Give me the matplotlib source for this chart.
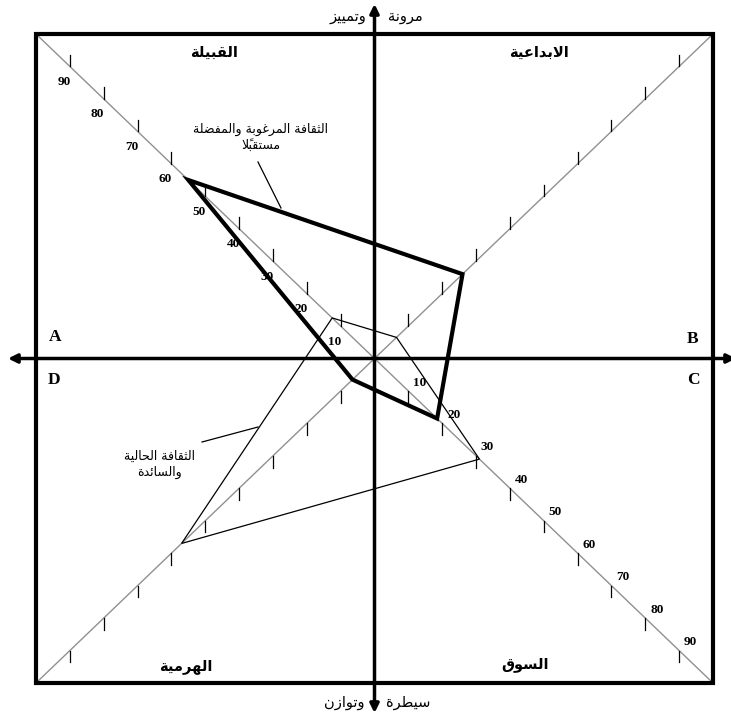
import matplotlib
matplotlib.use('Agg')
import matplotlib.pyplot as plt
from matplotlib.patches import Rectangle, Polygon

# values read along the four diagonals (0 at centre, 100 at the box corner)
directions = ['NW', 'NE', 'SE', 'SW']
desired = [55, 26, 18.5, 6.5]
current = [12.5, 6.5, 31, 57]
tick_values = [10, 20, 30, 40, 50, 60, 70, 80, 90]
labelled = ['NW', 'SE']

quadrant_names = ['القبيلة', 'الابداعية', 'السوق', 'الهرمية']
corner_letters = ['A', 'B', 'C', 'D']
top_words = ['مرونة', 'وتمييز']
bottom_words = ['سيطرة', 'وتوازن']
desired_label = ['الثقافة المرغوبة والمفضلة', 'مستقبلاً']
current_label = ['الثقافة الحالية', 'والسائدة']

dir_vec = {'NW': (-1, 1), 'NE': (1, 1), 'SE': (1, -1), 'SW': (-1, -1)}

# simple arabic shaping (matplotlib does no shaping / bidi)
FORMS = {
    'ا': (0xFE8D, 0xFE8E), 'ب': (0xFE8F, 0xFE90, 0xFE91, 0xFE92),
    'ة': (0xFE93, 0xFE94), 'ت': (0xFE95, 0xFE96, 0xFE97, 0xFE98),
    'ث': (0xFE99, 0xFE9A, 0xFE9B, 0xFE9C), 'ح': (0xFEA1, 0xFEA2, 0xFEA3, 0xFEA4),
    'د': (0xFEA9, 0xFEAA), 'ر': (0xFEAD, 0xFEAE), 'ز': (0xFEAF, 0xFEB0),
    'س': (0xFEB1, 0xFEB2, 0xFEB3, 0xFEB4), 'ض': (0xFEBD, 0xFEBE, 0xFEBF, 0xFEC0),
    'ط': (0xFEC1, 0xFEC2, 0xFEC3, 0xFEC4), 'ع': (0xFEC9, 0xFECA, 0xFECB, 0xFECC),
    'غ': (0xFECD, 0xFECE, 0xFECF, 0xFED0), 'ف': (0xFED1, 0xFED2, 0xFED3, 0xFED4),
    'ق': (0xFED5, 0xFED6, 0xFED7, 0xFED8), 'ل': (0xFEDD, 0xFEDE, 0xFEDF, 0xFEE0),
    'م': (0xFEE1, 0xFEE2, 0xFEE3, 0xFEE4), 'ن': (0xFEE5, 0xFEE6, 0xFEE7, 0xFEE8),
    'ه': (0xFEE9, 0xFEEA, 0xFEEB, 0xFEEC), 'و': (0xFEED, 0xFEEE),
    'ي': (0xFEF1, 0xFEF2, 0xFEF3, 0xFEF4), 'ئ': (0xFE89, 0xFE8A, 0xFE8B, 0xFE8C),
    'لا': (0xFEFB, 0xFEFC),
}


def shape(line):
    units = []
    i = 0
    while i < len(line):
        c = line[i]
        if c == 'ل' and line[i + 1:i + 2] == 'ا':
            units.append(['لا', ''])
            i += 2
            continue
        if '\u064b' <= c <= '\u0652' and units:
            units[-1][1] += c
        else:
            units.append([c, ''])
        i += 1
    glyphs = []
    for k, (c, marks) in enumerate(units):
        f = FORMS.get(c)
        if f is None:
            glyphs.append(c + marks)
            continue
        prev = FORMS.get(units[k - 1][0]) if k > 0 else None
        nxt = FORMS.get(units[k + 1][0]) if k + 1 < len(units) else None
        jp = prev is not None and len(prev) == 4
        jn = nxt is not None and len(f) == 4
        if jp and jn:
            g = f[3]
        elif jp:
            g = f[1]
        elif jn:
            g = f[2]
        else:
            g = f[0]
        glyphs.append(chr(g) + marks)
    return ''.join(reversed(glyphs))


W, H = 731, 718
fig = plt.figure(figsize=(W / 100, H / 100), dpi=100)
ax = fig.add_axes([0, 0, 1, 1])

# pixel -> data helpers (box 36..713 x 34..683 maps to -100..100)
sx = 200 / 677
sy = 200 / 649
x0 = -100 - 36 * sx
y0 = 100 + 34 * sy
ax.set_xlim(x0, x0 + W * sx)
ax.set_ylim(y0 - H * sy, y0)
ax.axis('off')


def px(x):
    return x0 + x * sx


def py(y):
    return y0 - y * sy


ax.add_patch(Rectangle((-100, -100), 200, 200, fill=False, lw=3, ec='black', zorder=3))

# diagonals
for d in directions:
    vx, vy = dir_vec[d]
    ax.plot([0, 100 * vx], [0, 100 * vy], color='#909090', lw=1, zorder=1)
    up = 1 if d in ('NW', 'NE') else -1
    for v in tick_values:
        ax.plot([v * vx, v * vx], [v * vy, v * vy + up * 3.6], color='black', lw=0.9, zorder=2)
        if d in labelled:
            if d == 'NW':
                tx, ty = v * vx - 1.8, v * vy - 4.8
            else:
                tx, ty = v * vx + 3.4, v * vy + 2.6
            ax.text(tx, ty, str(v), fontsize=9.5, fontweight='bold', family='Liberation Serif',
                    ha='center', va='center', zorder=4,
                    bbox=dict(fc='white', ec='none', pad=0.3))

# main axes with arrows
ax.annotate('', xy=(px(736), 0), xytext=(px(8), 0), annotation_clip=False,
            arrowprops=dict(arrowstyle='<|-|>', lw=2.5, color='black', mutation_scale=13,
                            shrinkA=0, shrinkB=0), zorder=3)
ax.annotate('', xy=(0, py(4)), xytext=(0, py(713)), annotation_clip=False,
            arrowprops=dict(arrowstyle='<|-|>', lw=2.5, color='black', mutation_scale=13,
                            shrinkA=0, shrinkB=0), zorder=3)

# polygons
cur_pts = [(v * dir_vec[d][0], v * dir_vec[d][1]) for d, v in zip(directions, current)]
des_pts = [(v * dir_vec[d][0], v * dir_vec[d][1]) for d, v in zip(directions, desired)]
ax.add_patch(Polygon(cur_pts, closed=True, fill=False, ec='black', lw=0.9, zorder=5))
ax.add_patch(Polygon(des_pts, closed=True, fill=False, ec='black', lw=3, joinstyle='miter', zorder=6))

# quadrant names
quad_pos = [(214, 52), (539, 52), (525, 664), (186, 667)]
for name, (x, y) in zip(quadrant_names, quad_pos):
    ax.text(px(x), py(y), shape(name), fontsize=10.5, family='DejaVu Sans', fontweight='bold',
            ha='center', va='center', zorder=4)

letter_pos = [(55, 337), (693, 339), (693, 380), (54, 380)]
for s, (x, y) in zip(corner_letters, letter_pos):
    ax.text(px(x), py(y), s, fontsize=12.5, family='Liberation Serif', fontweight='bold',
            ha='center', va='center', zorder=4)

# axis words
ax.text(px(388), py(17), shape(top_words[0]), fontsize=10.5, family='DejaVu Sans', ha='left', va='center')
ax.text(px(366), py(17), shape(top_words[1]), fontsize=10.5, family='DejaVu Sans', ha='right', va='center')
ax.text(px(386), py(702), shape(bottom_words[0]), fontsize=10.5, family='DejaVu Sans', ha='left', va='center')
ax.text(px(365), py(702), shape(bottom_words[1]), fontsize=10.5, family='DejaVu Sans', ha='right', va='center')

# annotation labels with leader lines
ax.text(px(261), py(137), '\n'.join(shape(l) for l in desired_label), fontsize=9,
        family='DejaVu Sans', ha='center', va='center', linespacing=1.3, zorder=4)
ax.plot([px(258), px(281)], [py(162), py(208)], color='black', lw=0.9, zorder=4)
ax.text(px(160), py(464), '\n'.join(shape(l) for l in current_label), fontsize=9,
        family='DejaVu Sans', ha='center', va='center', linespacing=1.3, zorder=4)
ax.plot([px(202), px(258)], [py(442), py(427)], color='black', lw=0.9, zorder=4)

fig.savefig('out.png', dpi=100, facecolor='white')
